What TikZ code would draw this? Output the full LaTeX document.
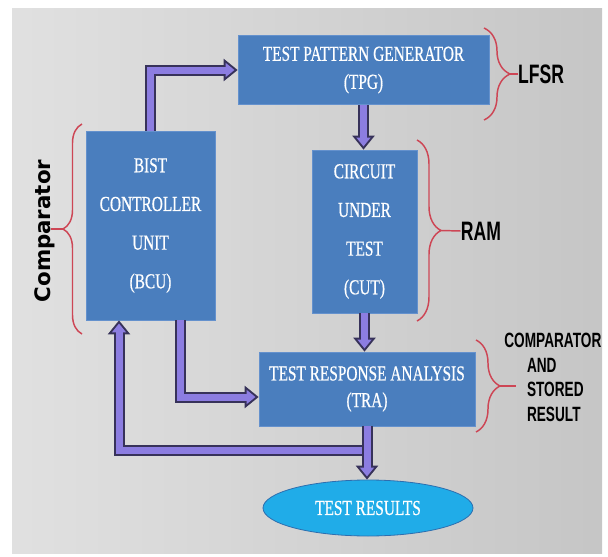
\documentclass[tikz,border=0pt]{standalone}
\usepackage{fontspec}
\usetikzlibrary{arrows.meta,shapes.geometric,decorations.pathreplacing,calc}
\newfontfamily\boxfont[FakeStretch=0.72,FakeBold=0.6]{Liberation Serif}
\newfontfamily\tagfont[FakeStretch=0.66]{Liberation Sans}
\newfontfamily\sidefont{DejaVu Sans}
\definecolor{boxblue}{RGB}{74,126,190}
\definecolor{boxedge}{RGB}{100,145,205}
\definecolor{ovalblue}{RGB}{32,172,232}
\definecolor{ovaledge}{RGB}{45,110,175}
\definecolor{flowfill}{RGB}{140,125,225}
\definecolor{flowedge}{RGB}{55,50,90}
\definecolor{bracered}{RGB}{205,70,85}

\tikzset{every picture/.style={line width=0.55pt},
  block/.style={rectangle, fill=boxblue, draw=boxedge, line width=0.6pt, text=white, align=center, inner sep=0pt, font=\boxfont\fontsize{16}{29}\selectfont},
  oval/.style={ellipse, fill=ovalblue, draw=ovaledge, line width=0.6pt, text=white, inner sep=0pt, font=\boxfont\fontsize{16}{17}\selectfont},
  flow/.style={draw=flowedge, line width=8.25pt, -{Triangle[length=10.5pt,width=17pt,line width=0pt]},
    postaction={draw=flowfill, line width=5.25pt, -{Triangle[length=6.6pt,width=10.7pt,line width=0pt]}, shorten >=2.4pt}},
  curly/.style={draw=bracered, line width=1.1pt, decorate, decoration={brace, amplitude=#1}},
  tick/.style={draw=bracered, line width=1.1pt},
  tag/.style={inner sep=0pt, font=\tagfont\bfseries\fontsize{20}{24}\selectfont},
}

\begin{document}
\begin{tikzpicture}[x=0.75pt,y=0.75pt,yscale=-1,xscale=1]
\useasboundingbox (0,0) rectangle (608,557);
\fill[left color=gray!24, middle color=gray!3, right color=gray!45] (12,8) rectangle (602,553);

\node (tpg) at (363.5,70) [block, minimum width=188.25pt, minimum height=51.75pt, font=\boxfont\fontsize{16}{21}\selectfont] {TEST PATTERN GENERATOR\\(TPG)};
\node (bcu) at (150.5,225.5) [block, minimum width=96.75pt, minimum height=141.75pt] {BIST\\CONTROLLER\\UNIT\\(BCU)};
\node (cut) at (364.5,231.5) [block, minimum width=78.75pt, minimum height=122.25pt] {CIRCUIT\\UNDER\\TEST\\(CUT)};
\node (tra) at (367,389) [block, minimum width=162pt, minimum height=55.5pt, font=\boxfont\fontsize{16}{20}\selectfont] {TEST RESPONSE ANALYSIS\\(TRA)};
\node (res) at (368,508) [oval, minimum width=157.5pt, minimum height=42pt] {TEST RESULTS};

\draw[flow] (bcu.north) |- (tpg.west);
\draw[flow] (tpg.south) -- (tpg.south |- cut.north);
\draw[flow] (cut.south) -- (cut.south |- tra.north);
\draw[flow] ($(bcu.south)+(29.5,0)$) |- ($(tra.west)+(0,8)$);
\coordinate (split) at ($(tra.south)!0.45!(res.north)$);
\draw[flow] (split) -| ($(bcu.south)+(-31.5,0)$);
\draw[flow] (tra.south) -- (tra.south |- res.north);

\node (lfsr) at (541,74) [tag] {LFSR};
\node (ram) at (481,231) [tag] {RAM};
\node (store) at (504,333) [tag, anchor=north west, align=left, font=\tagfont\bfseries\fontsize{15.5}{18.4}\selectfont] {COMPARATOR\\\hspace*{17pt}AND\\\hspace*{17pt}STORED\\\hspace*{17pt}RESULT};
\node (side) at (44.6,231) [rotate=90, inner sep=0pt, font=\sidefont\bfseries\fontsize{16}{19}\selectfont] {Comparator};

\draw[curly=19.5pt] (484,28) -- (484,120);
\draw[tick] (510,74) -- (lfsr.west);
\draw[curly=18pt] (417,140) -- (417,321);
\draw[tick] (441,230.5) -- (ram.west);
\draw[curly=18pt] (476,340) -- (476,432);
\draw[tick] (500,386) -- (516,386);
\draw[curly=14.25pt] (82,334) -- (82,124);
\draw[tick] (63,229) -- (51,229);
\end{tikzpicture}
\end{document}
